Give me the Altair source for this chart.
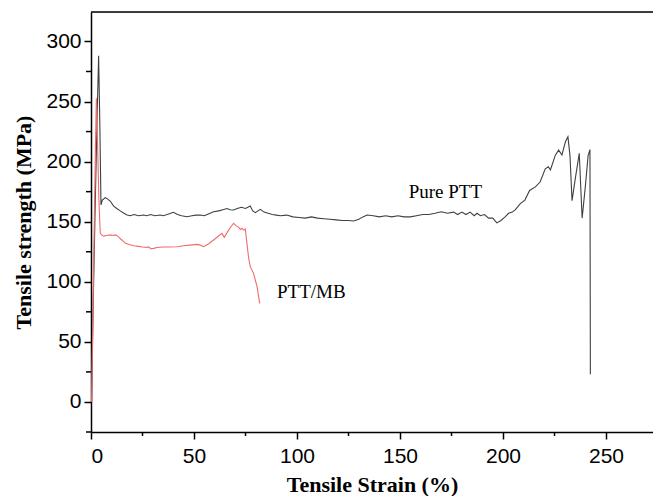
import altair as alt
import pandas as pd

# Pure PTT curve (strain %, strength MPa)
ptt_x = [0.3, 1.0, 2.0, 3.0, 3.7, 4.3, 4.85, 5.5, 6.9, 8.0,
         9.4, 11, 12.5, 14.2, 16, 17.5, 19, 21, 23, 25.5,
         27, 29, 31, 33.6, 35, 37, 40, 42, 44, 46.6,
         49, 51, 53, 55, 57, 59.5, 62, 64, 66, 67.5,
         69.2, 71, 73, 75, 77.3, 78.5, 79.8, 81, 82.2, 84,
         86, 88, 90, 92, 95, 98, 101, 104, 107, 110,
         113, 116, 119, 122, 125, 127.5, 130, 132, 134, 137,
         140, 143, 146, 149, 152, 155, 158, 161, 164, 167,
         170, 173, 176, 178, 180, 182, 184, 186, 187.4, 189,
         191, 193, 195, 197, 199, 201, 202.7, 204.5, 206, 208.4,
         210.6, 212.9, 215.7, 218, 220.5, 222, 223, 225.4, 227, 228.6,
         230.3, 231.5, 232.5, 233.5, 235, 237, 238.4, 240, 241.3, 242.2,
         242.4]
ptt_y = [0, 75, 160, 240, 288, 230, 164, 168, 170, 169,
         167, 163, 161, 159, 157, 155.6, 155, 156, 155, 155.6,
         155, 156, 155, 155.6, 155, 156, 157.8, 156, 155, 154.1,
         155, 155.5, 155.6, 155, 156.5, 158.3, 159, 160, 161, 160,
         159.7, 161, 162, 161, 163, 159, 157.5, 159, 160.3, 158,
         157, 156, 155.5, 155, 155.5, 154, 153.5, 153, 154, 153,
         152.5, 152, 151.5, 151, 151, 150.6, 152, 154, 155.6, 155,
         154, 155, 154, 155, 154, 154, 155, 156, 156, 157,
         158.3, 157, 158, 156, 158, 156, 158, 155, 157, 155,
         156, 153, 153, 149, 151, 154, 157, 158, 160, 165,
         168, 176, 179, 183, 194, 195.7, 193, 205.4, 209.6, 205.5,
         216.6, 220.7, 205, 167.5, 185, 206.9, 153, 180, 205, 210,
         23]

# PTT/MB curve
mb_x = [0.3, 1.0, 1.6, 2.2, 2.6, 3.2, 3.8, 4.5, 5.2, 6.1,
        7.5, 9.4, 10.5, 11.8, 13, 14.2, 15.5, 16.7, 18.5, 20.7,
        23, 25, 27, 28, 29, 30.4, 32, 35, 38, 41.7,
        45, 48, 51.5, 53, 54.6, 57, 59.5, 61.5, 63.6, 64.7,
        66.8, 68, 69.2, 70.5, 71.7, 72.5, 73.3, 74.1, 74.9, 75.7,
        76.5, 77.3, 78.9, 80.6, 81.9]
mb_y = [0, 80, 150, 215, 252.7, 215, 170, 140.3, 139, 138,
        138.5, 139, 138.5, 139, 138, 136, 134, 132, 131, 130,
        129.5, 129, 128.6, 129, 127.5, 127.8, 128.5, 129, 129, 129.2,
        130, 130.5, 131.1, 130.5, 129.2, 131.5, 134.8, 137.5, 140.3, 137,
        143, 146, 148.7, 146.5, 145.3, 143.5, 144.5, 143, 144, 132,
        120, 112.6, 107, 96, 82]

series_names = ["Pure PTT", "PTT/MB"]
series_colors = ["#404040", "#f26a6a"]

label_text = ["Pure PTT", "PTT/MB"]
label_x = [172, 90.3]
label_y = [174.5, 91.8]

x_major = [0, 50, 100, 150, 200, 250]
x_minor = [25, 75, 125, 175, 225]
y_major = [0, 50, 100, 150, 200, 250, 300]
y_minor = [-25, 25, 75, 125, 175, 225, 275]

df = pd.concat([
    pd.DataFrame({"x": ptt_x, "y": ptt_y, "s": series_names[0], "o": range(len(ptt_x))}),
    pd.DataFrame({"x": mb_x, "y": mb_y, "s": series_names[1], "o": range(len(mb_x))}),
])

W, H = 562, 420
xscale = alt.Scale(domain=[0, 272.8], nice=False, zero=False)
yscale = alt.Scale(domain=[-25, 324.5], nice=False, zero=False)

title_font = "Liberation Serif"
label_font = "Liberation Sans"

xaxis = alt.Axis(values=x_major, title="Tensile Strain (%)", grid=False, tickSize=7,
                 labelFont=label_font, labelFontSize=21, labelColor="black", labelPadding=6,
                 titleFont=title_font, titleFontSize=22, titleFontWeight="bold", titleColor="black",
                 titlePadding=8, domainColor="black", domainWidth=1.5, tickColor="black", tickWidth=1.5)
yaxis = alt.Axis(values=y_major, title="Tensile strength (MPa)", grid=False, tickSize=7,
                 labelFont=label_font, labelFontSize=21, labelColor="black", labelPadding=3,
                 titleFont=title_font, titleFontSize=22, titleFontWeight="bold", titleColor="black",
                 titlePadding=10, domainColor="black", domainWidth=1.5, tickColor="black", tickWidth=1.5)

lines = alt.Chart(df).mark_line(strokeWidth=1.1, interpolate="linear").encode(
    x=alt.X("x:Q", scale=xscale, axis=xaxis),
    y=alt.Y("y:Q", scale=yscale, axis=yaxis),
    color=alt.Color("s:N", scale=alt.Scale(domain=series_names, range=series_colors), legend=None),
    order="o:Q",
    detail="s:N",
)

labels_df = pd.DataFrame({"t": label_text, "x": label_x, "y": label_y})
lab1 = alt.Chart(labels_df.iloc[[0]]).mark_text(font=title_font, fontSize=19, align="center", baseline="middle", color="black").encode(
    x=alt.X("x:Q", scale=xscale), y=alt.Y("y:Q", scale=yscale), text="t:N")
lab2 = alt.Chart(labels_df.iloc[[1]]).mark_text(font=title_font, fontSize=19, align="left", baseline="middle", color="black").encode(
    x=alt.X("x:Q", scale=xscale), y=alt.Y("y:Q", scale=yscale), text="t:N")

xminor = alt.Chart(pd.DataFrame({"v": x_minor})).mark_rule(color="black", strokeWidth=1.5).encode(
    x=alt.X("v:Q", scale=xscale), y=alt.value(H), y2=alt.value(H + 4))
yminor = alt.Chart(pd.DataFrame({"v": y_minor})).mark_rule(color="black", strokeWidth=1.5).encode(
    y=alt.Y("v:Q", scale=yscale), x=alt.value(0), x2=alt.value(-5))

top = alt.Chart(pd.DataFrame({"k": [0]})).mark_rule(color="black", strokeWidth=1.5).encode(
    x=alt.value(0), x2=alt.value(W), y=alt.value(0))

chart = alt.layer(lines, lab1, lab2, xminor, yminor, top).properties(
    width=W, height=H,
    autosize=alt.AutoSizeParams(type="none"),
    padding={"left": 91, "top": 12, "right": 0, "bottom": 64},
).configure_view(stroke=None).configure(background="white")

chart.save("out.html", embed_options={"renderer": "svg", "actions": False})
